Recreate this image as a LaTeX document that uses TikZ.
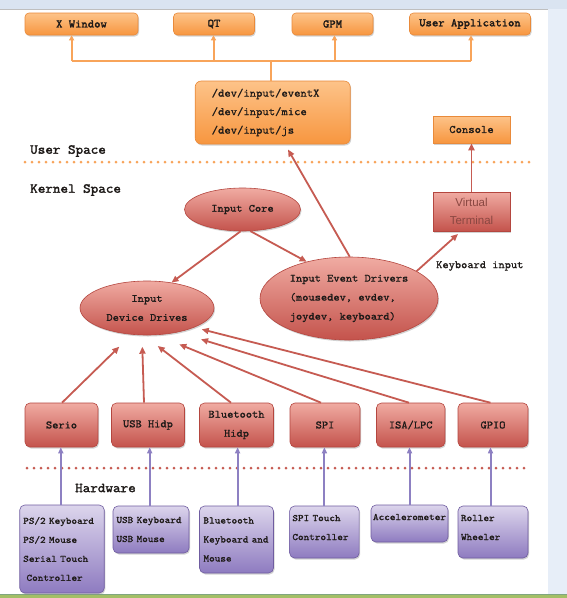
\documentclass[tikz,border=0pt]{standalone}
\usepackage{fontspec}
\usetikzlibrary{arrows.meta,shapes.geometric,shadows}
\newfontfamily\mono{Latin Modern Mono}[FakeBold=1.2,FakeStretch=1.08]
\newfontfamily\monob{Latin Modern Mono}[FakeBold=2.2,FakeStretch=1.08]
\newfontfamily\sansf{Liberation Sans}
\definecolor{orTop}{HTML}{FDC389}
\definecolor{orBot}{HTML}{F7963F}
\definecolor{orBorder}{HTML}{E98A3A}
\definecolor{orLine}{HTML}{F8A45A}
\definecolor{rdTop}{HTML}{F0ABA2}
\definecolor{rdBot}{HTML}{C4534C}
\definecolor{rdBorder}{HTML}{B4463F}
\definecolor{rdLine}{HTML}{C65B52}
\definecolor{puTop}{HTML}{DCD5EC}
\definecolor{puBot}{HTML}{8E7BC0}
\definecolor{puBorder}{HTML}{6F5CA0}
\definecolor{puLine}{HTML}{8D80C2}
\definecolor{txt}{HTML}{1E1A18}
\definecolor{vtText}{HTML}{8A4741}
\definecolor{topStrip}{HTML}{DAE4F1}
\definecolor{rightStrip}{HTML}{E7EEF8}
\definecolor{greenBand}{HTML}{A3BF66}
\begin{document}
\begin{tikzpicture}[x=1pt,y=-1pt,
  shd/.style={drop shadow={shadow xshift=1pt,shadow yshift=-1.5pt,opacity=.35}},
  appbox/.style={shd,draw=orBorder,line width=.6pt,rounded corners=4pt,top color=orTop,bottom color=orBot,
    font=\monob\fontsize{11.4}{12}\selectfont,text=txt,minimum height=22pt,inner sep=0pt},
  sqbox/.style={shd,draw=orBorder,line width=.6pt,top color=orTop,bottom color=orBot,
    font=\mono\fontsize{11.4}{12}\selectfont,text=txt,inner sep=0pt},
  rdellipse/.style={shd,ellipse,draw=rdBorder,line width=.6pt,top color=rdTop,bottom color=rdBot,
    font=\mono\fontsize{11}{19}\selectfont,text=txt,inner sep=0pt},
  rdbox/.style={shd,draw=rdBorder,line width=.6pt,rounded corners=5pt,top color=rdTop,bottom color=rdBot,
    font=\mono\fontsize{11.2}{19}\selectfont,text=txt,inner sep=0pt,minimum height=44pt,align=center},
  pubox/.style={shd,draw=puBorder,line width=.6pt,rounded corners=5pt,top color=puTop,bottom color=puBot,
    font=\mono\fontsize{9.9}{19}\selectfont,text=txt,inner sep=0pt,align=left},
  orarrow/.style={draw=orLine,line width=2pt,-{Triangle[length=5pt,width=5pt]}},
  orline/.style={draw=orLine,line width=2pt},
  rdarrow/.style={draw=rdLine,line width=1.8pt,-{Triangle[length=7pt,width=6pt]}},
  puarrow/.style={draw=puLine,line width=2pt,-{Triangle[length=6pt,width=5pt]}},
  spacelabel/.style={font=\monob\fontsize{13.6}{14}\selectfont,text=txt,anchor=west,inner sep=0pt},
  dotline/.style={line width=3pt,dash pattern=on 0pt off 7pt,line cap=round}
]
\useasboundingbox (0,0) rectangle (567,598);
% background of the screenshot
\fill[white] (0,0) rectangle (567,598);
\fill[topStrip] (0,0) rectangle (567,9);
\draw[color=black!25,line width=.8pt] (0,9) -- (567,9);
\fill[rightStrip] (548,9) rectangle (567,594);
\fill[greenBand] (0,594) rectangle (567,598);
\draw[color=green!30!black!50,line width=.8pt] (0,594) -- (567,594);

% user space applications
\node[appbox,minimum width=113pt] (xw) at (81.5,24) {X Window};
\node[appbox,minimum width=81pt] (qt) at (214,24) {QT};
\node[appbox,minimum width=81pt] (gpm) at (332.5,24) {GPM};
\node[appbox,minimum width=121pt] (ua) at (470,24) {User Application};

\node[sqbox,rounded corners=6pt,minimum width=155pt,minimum height=63pt,align=left,text width=122pt,
  font=\mono\fontsize{11.4}{18.5}\selectfont] (dev) at (272.7,112.5)
  {/dev/input/eventX\\/dev/input/mice\\/dev/input/js};

\coordinate (b1) at (71.6,61);
\coordinate (b2) at (213.5,61);
\coordinate (b3) at (334.5,61);
\coordinate (b4) at (471,61);
\coordinate (bm) at (270.5,61);
\draw[orline,line cap=butt] (b1) -- (b4);
\draw[orline] (dev.north -| bm) -- (bm);
\draw[orarrow] (b1) -- (b1 |- xw.south);
\draw[orarrow] (b2) -- (b2 |- qt.south);
\draw[orarrow] (b3) -- (b3 |- gpm.south);
\draw[orarrow] (b4) -- (b4 |- ua.south);

\node[sqbox,minimum width=77pt,minimum height=27pt] (con) at (471.5,129.5) {Console};

% space labels and separators
\node[spacelabel] (us) at (30,151) {User Space};
\draw[dotline,draw=orLine] (25,162) -- (531,162);
\node[spacelabel] (ks) at (30,190) {Kernel Space};

% kernel
\node[rdellipse,minimum width=116pt,minimum height=43pt] (ic) at (242.5,209.5) {Input Core};
\node[shd,draw=rdBorder,line width=.6pt,top color=rdTop,bottom color=rdBot,minimum width=77pt,minimum height=39pt,
  inner sep=0pt,align=center,font=\sansf\fontsize{11.5}{18}\selectfont,text=vtText] (vt) at (471.5,211.5) {Virtual\\Terminal};
\node[rdellipse,minimum width=178pt,minimum height=83pt,align=left] (ied) at (349,298.5)
  {Input Event Drivers\\(mousedev, evdev,\\joydev, keyboard)};
\node[rdellipse,minimum width=134pt,minimum height=54pt,align=center] (idd) at (147,308)
  {Input\\Device Drives};

\draw[rdarrow] (ic.265) -- (idd.46);
\draw[rdarrow] (ic.290) -- (ied.139);
\draw[rdarrow,shorten >=6pt] (ied.89) -- ([xshift=12.3pt]dev.south);
\draw[rdarrow,shorten >=4pt] (ied.22) -- ([xshift=-10.5pt]vt.south);
\draw[rdarrow] (vt) -- (con);
\node[font=\mono\fontsize{11.2}{12}\selectfont,text=txt,anchor=west,inner sep=0pt] (kbd) at (436,266) {Keyboard input};

% bus drivers
\node[rdbox,minimum width=73pt] (serio) at (61.5,425) {Serio};
\node[rdbox,minimum width=73pt] (usb) at (148,425) {USB Hidp};
\node[rdbox,minimum width=74pt] (bt) at (236.5,425) {Bluetooth\\Hidp};
\node[rdbox,minimum width=70pt] (spi) at (325,425) {SPI};
\node[rdbox,minimum width=68.5pt] (isa) at (410.7,425) {ISA/LPC};
\node[rdbox,minimum width=70pt] (gpio) at (493,425) {GPIO};

\coordinate (t1) at (119.3,346.7);
\coordinate (t2) at (142.3,346.7);
\coordinate (t3) at (157.7,346);
\coordinate (t4) at (179.3,344.3);
\coordinate (t5) at (201,339.3);
\coordinate (t6) at (201.7,329.3);
\draw[rdarrow] ([xshift=0.5pt]serio.north) -- (t1);
\draw[rdarrow] ([xshift=-4pt]usb.north) -- (t2);
\draw[rdarrow] ([xshift=-5.5pt]bt.north) -- (t3);
\draw[rdarrow] ([xshift=-4pt]spi.north) -- (t4);
\draw[rdarrow] ([xshift=-1.7pt]isa.north) -- (t5);
\draw[rdarrow] ([xshift=-2.5pt]gpio.north) -- (t6);

\draw[dotline,draw=rdLine] (27,468) -- (531,468);
\node[spacelabel] (hw) at (75,488) {Hardware};

% hardware devices
\node[pubox,minimum width=84.5pt,minimum height=88pt,text width=77.5pt] (ps2) at (62,549)
  {PS/2 Keyboard\\PS/2 Mouse\\Serial Touch\\\ Controller};
\node[pubox,minimum width=76pt,minimum height=47pt,text width=69pt] (usbk) at (151,529.5)
  {USB Keyboard\\USB Mouse};
\node[pubox,minimum width=74pt,minimum height=67pt,text width=66pt] (btk) at (236.5,539.5)
  {Bluetooth\\Keyboard and\\Mouse};
\node[pubox,minimum width=69.5pt,minimum height=52pt,text width=64pt,text depth=28pt] (spik) at (324.4,532)
  {SPI Touch\\Controller};
\node[pubox,minimum width=77pt,minimum height=37pt,text width=73pt,text depth=13pt] (acc) at (409.5,523.5)
  {Accelerometer};
\node[pubox,minimum width=70pt,minimum height=52pt,text width=64pt,text depth=28pt] (rol) at (493,532)
  {Roller\\Wheeler};

\draw[puarrow] ([xshift=-1.2pt]ps2.north) -- ([xshift=-1.2pt]ps2.north |- serio.south);
\draw[puarrow] ([xshift=-1.3pt]usbk.north) -- ([xshift=-1.3pt]usbk.north |- usb.south);
\draw[puarrow] ([xshift=1.1pt]btk.north) -- ([xshift=1.1pt]btk.north |- bt.south);
\draw[puarrow] (spik.north) -- (spik.north |- spi.south);
\draw[puarrow] (acc.north) -- (acc.north |- isa.south);
\draw[puarrow] ([xshift=-2.5pt]rol.north) -- ([xshift=-2.5pt]rol.north |- gpio.south);
\end{tikzpicture}
\end{document}
